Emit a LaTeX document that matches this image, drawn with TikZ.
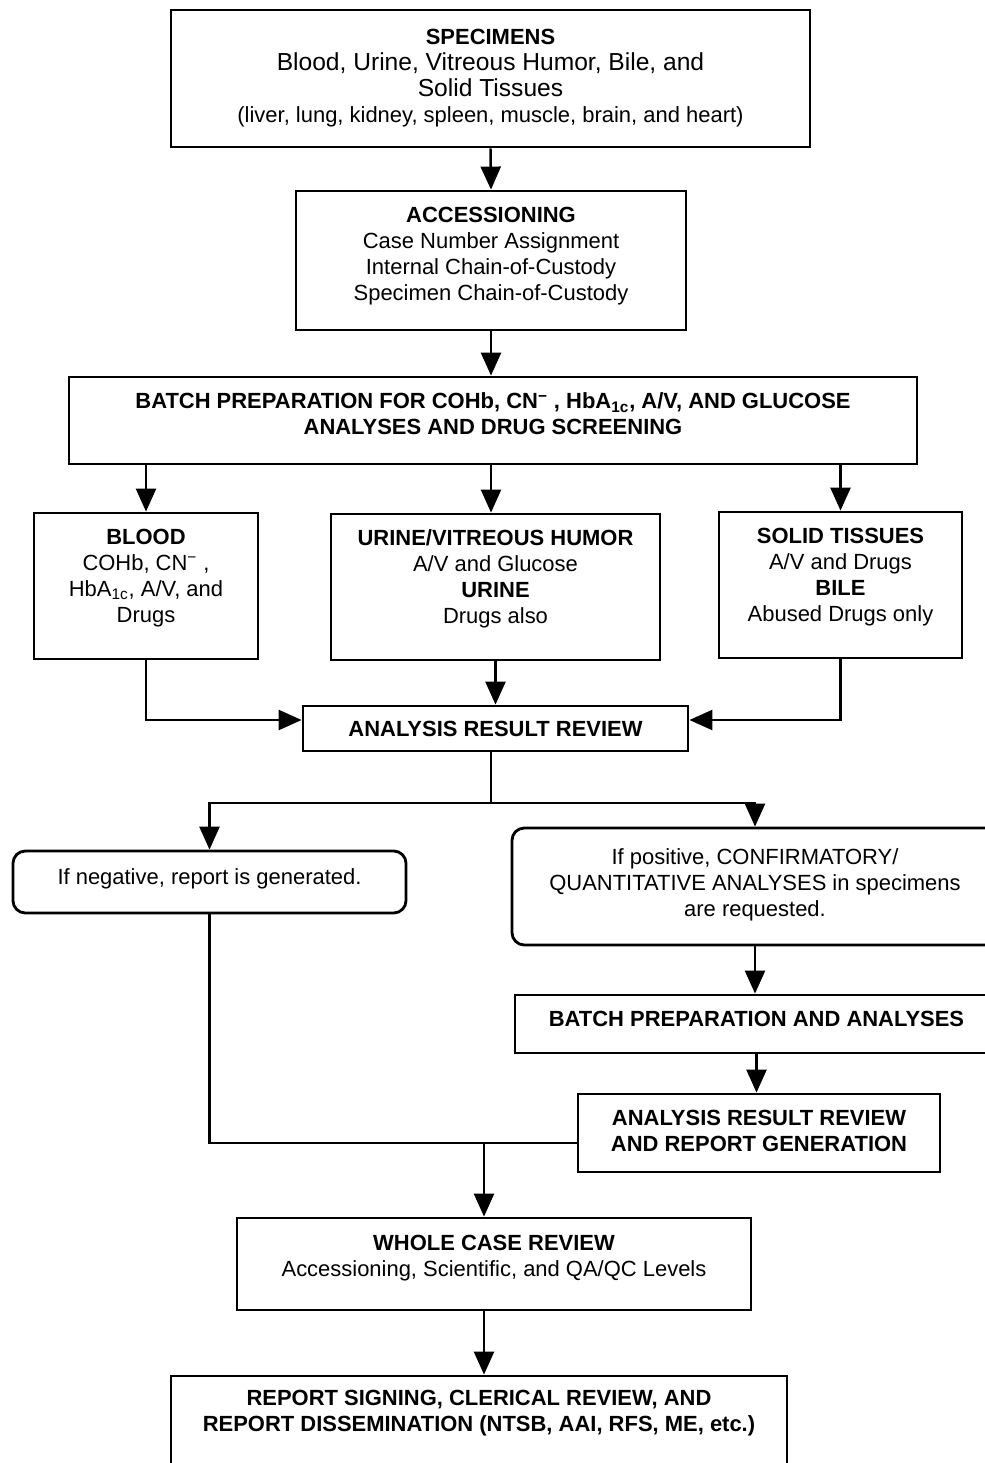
\documentclass[tikz,border=0pt]{standalone}
\usepackage{fontspec}
\setmainfont{Liberation Sans}
\usetikzlibrary{arrows.meta}

\begin{document}
\begin{tikzpicture}[x=0.02cm, y=-0.02cm,
	stage/.style={draw=black, line width=1.6pt, align=center, inner sep=2pt,
		font=\fontsize{12.5}{14.8}\selectfont},
	choice/.style={stage, rounded corners=7pt},
	flow/.style={line width=1.4pt, -{Triangle[length=0.46cm, width=0.4cm]}},
	link/.style={line width=1.4pt}]

	% one unit of the grid, used for the box sizes
	\def\unit{0.02cm}
	\useasboundingbox (0, 0) rectangle (984, 1463);

	% top box with the specimens
	\node[stage, minimum width=639*\unit, minimum height=137*\unit, text depth=3pt] (specimens) at (490.5, 78.5)
		{\textbf{SPECIMENS}\\
		{\fontsize{14}{16}\selectfont Blood, Urine, Vitreous Humor, Bile, and}\\
		{\fontsize{14}{16}\selectfont Solid Tissues}\\
		(liver, lung, kidney, spleen, muscle, brain, and heart)};

	% accessioning
	\node[stage, minimum width=390*\unit, minimum height=139*\unit, text depth=7.5pt] (accessioning) at (491, 260.5)
		{\textbf{ACCESSIONING}\\ Case Number Assignment\\ Internal Chain-of-Custody\\ Specimen Chain-of-Custody};

	% wide batch box
	\node[stage, minimum width=848*\unit, minimum height=87*\unit, text depth=7.5pt] (batch) at (493, 420.5)
		{\textbf{BATCH PREPARATION FOR COHb, CN\textsuperscript{−} , HbA\textsubscript{1c}, A/V, AND GLUCOSE}\\
		\textbf{ANALYSES AND DRUG SCREENING}};

	% three specimen groups
	\node[stage, minimum width=224*\unit, minimum height=146*\unit, text depth=12pt] (blood) at (146, 586)
		{\textbf{BLOOD}\\ COHb, CN\textsuperscript{−} ,\\ HbA\textsubscript{1c}, A/V, and\\ Drugs};
	\node[stage, minimum width=329*\unit, minimum height=146*\unit, text depth=12pt] (urine) at (495.5, 587)
		{\textbf{URINE/VITREOUS HUMOR}\\ A/V and Glucose\\ \textbf{URINE}\\ Drugs also};
	\node[stage, minimum width=243*\unit, minimum height=146*\unit, text depth=12pt] (solid) at (840.5, 585)
		{\textbf{SOLID TISSUES}\\ A/V and Drugs\\ \textbf{BILE}\\ Abused Drugs only};

	% first review
	\node[stage, minimum width=385*\unit, minimum height=45*\unit] (review) at (495.5, 728.5)
		{\textbf{ANALYSIS RESULT REVIEW}};

	% the two outcomes
	\node[choice, minimum width=393*\unit, minimum height=62*\unit, text depth=6pt] (negative) at (209.5, 882)
		{If negative, report is generated.};
	\node[choice, minimum width=486*\unit, minimum height=117*\unit, text depth=5pt] (positive) at (755, 886.5)
		{If positive, CONFIRMATORY/\\ QUANTITATIVE ANALYSES in specimens\\ are requested.};

	% confirmation branch
	\node[stage, minimum width=483*\unit, minimum height=58*\unit, text depth=5.5pt] (batchtwo) at (756.5, 1024)
		{\textbf{BATCH PREPARATION AND ANALYSES}};
	\node[stage, minimum width=362*\unit, minimum height=78*\unit, text depth=2.5pt] (reviewtwo) at (759, 1133)
		{\textbf{ANALYSIS RESULT REVIEW}\\ \textbf{AND REPORT GENERATION}};

	% whole case review and report
	\node[stage, minimum width=514*\unit, minimum height=92*\unit, text depth=9.5pt] (whole) at (494, 1264)
		{\textbf{WHOLE CASE REVIEW}\\ Accessioning, Scientific, and QA/QC Levels};
	\node[stage, minimum width=616*\unit, minimum height=94*\unit, text depth=13.5pt] (report) at (479, 1423)
		{\textbf{REPORT SIGNING, CLERICAL REVIEW, AND}\\
		\textbf{REPORT DISSEMINATION (NTSB, AAI, RFS, ME, etc.)}};

	% arrows down the top part
	\draw[flow] (specimens.south) -- (accessioning.north);
	\draw[flow] (accessioning.south) -- (batch.north -| accessioning.south);
	\draw[flow] (batch.south -| blood.north) -- (blood.north);
	\draw[flow] (batch.south -| accessioning.south) -- (urine.north -| accessioning.south);
	\draw[flow] (batch.south -| solid.north) -- (solid.north);

	% groups into the review
	\draw[flow] (blood.south) |- ([yshift=0.17cm]review.west);
	\draw[flow] (urine.south) -- (review.north -| urine.south);
	\draw[flow] (solid.south) |- ([yshift=0.17cm]review.east);

	% split after the review
	\coordinate (fork) at (491, 803);
	\draw[link] (review.south -| fork) -- (fork);
	\draw[flow] (fork) -| (negative.north);
	\draw[flow] (fork) -| (positive.north);

	% confirmation chain
	\draw[flow] (positive.south) -- (positive.south |- batchtwo.north);
	\draw[flow] (batchtwo.south) -- (batchtwo.south |- reviewtwo.north);

	% both branches meet again
	\coordinate (merge) at (484, 1143);
	\draw[link] (negative.south) |- (merge -| reviewtwo.west);
	\draw[flow] (merge) -- (merge |- whole.north);
	\draw[flow] (merge |- whole.south) -- (merge |- report.north);

\end{tikzpicture}
\end{document}
